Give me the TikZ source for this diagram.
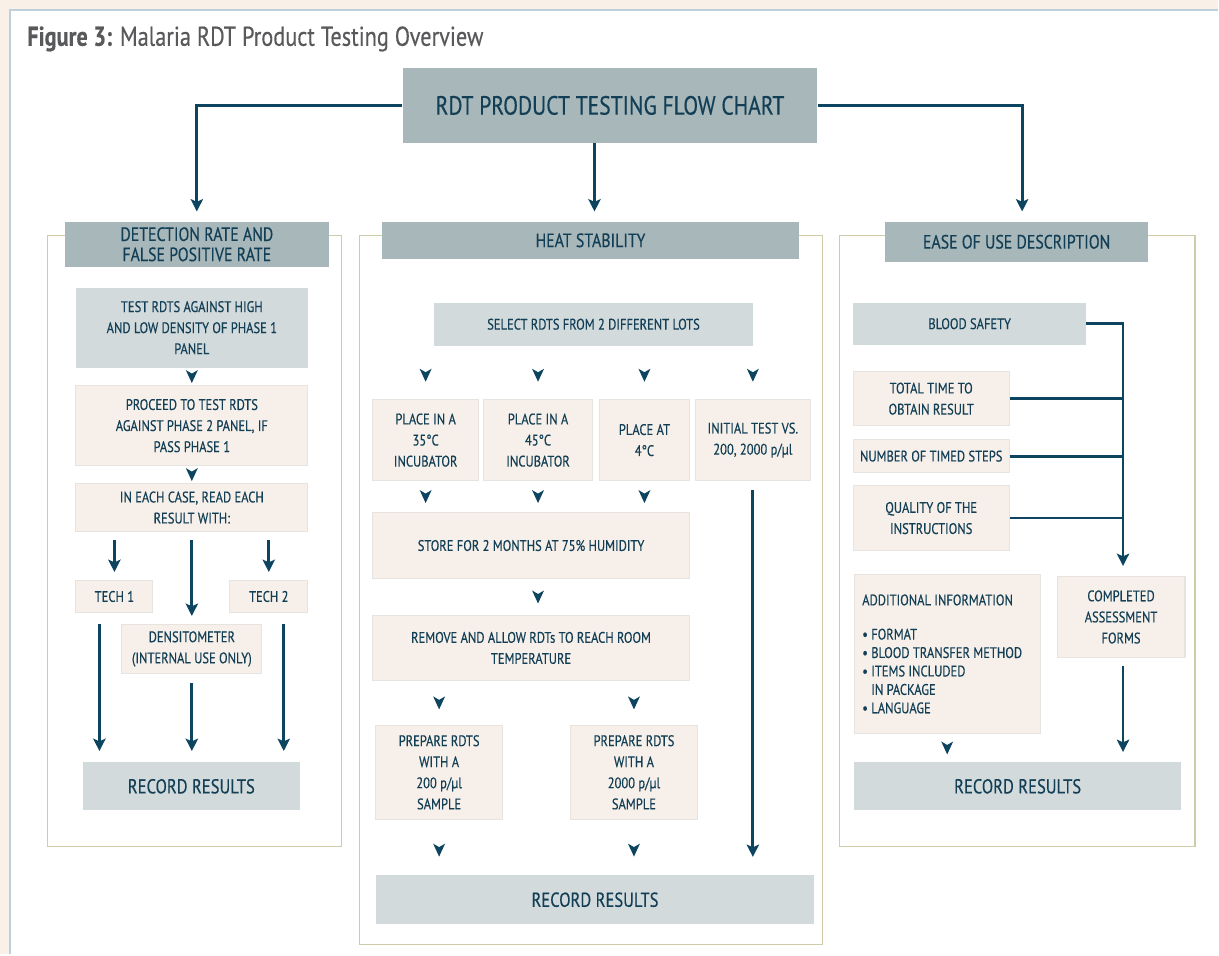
\documentclass[tikz,border=0pt]{standalone}
\usepackage{fontspec}
\setmainfont{PT Sans}[FakeStretch=0.82, FakeBold=0.35]
\usepackage{tikz}
\usetikzlibrary{arrows.meta, calc}
\usepackage{xcolor}
\definecolor{sfondo}{HTML}{F9F1E7}
\definecolor{bordoPannello}{HTML}{BDD0DB}
\definecolor{testata}{HTML}{A8B7BA}
\definecolor{chiaro}{HTML}{D2DADC}
\definecolor{crema}{HTML}{F7F0EA}
\definecolor{bordoCrema}{HTML}{E7E4DF}
\definecolor{cachi}{HTML}{CFCCA8}
\definecolor{blu}{HTML}{0D4560}
\definecolor{inchiostro}{HTML}{123F55}
\definecolor{grigio}{HTML}{58595B}
\newcommand{\piccolo}{\fontsize{8.7}{12}\selectfont}
\newcommand{\medio}{\fontsize{11}{11.5}\selectfont}
\newcommand{\registra}{\fontsize{11.5}{12}\selectfont}
\newcommand{\titolone}{\fontsize{15}{16}\selectfont}
\newcommand{\punta}[1]{
\fill[blu] (#1) ++(-6,-6.5) -- ++(6,3.5) -- ++(6,-3.5) -- ++(-6,13) -- cycle;
}
\tikzset{
    dim/.style 2 args = {minimum width = #1*0.02cm, minimum height = #2*0.02cm},
    scatola/.style = {inner sep = 0pt, align = center, text = inchiostro, font = \piccolo},
    intestazione/.style = {scatola, fill = testata, font = \medio},
    grigia/.style = {scatola, fill = chiaro},
    beige/.style = {scatola, fill = crema, draw = bordoCrema, line width = 0.6pt},
    freccia/.style = {blu, line width = 1.6pt, -{Stealth[length = 7pt, width = 7pt, inset = 1.5pt]}},
    linea/.style = {blu, line width = 1.6pt},
    cornice/.style = {cachi, line width = 0.6pt}
}

\begin{document}
\begin{tikzpicture}[x = 0.02cm, y = -0.02cm]
    % Sfondo e pannello
    \fill[sfondo] (0,0) rectangle (1219,955);
    \fill[white] (10,10) rectangle (1219,955);
    \draw[bordoPannello, line width = 1.2pt] (10,955) -- (10,10) -- (1219,10);
    \useasboundingbox (0,0) rectangle (1219,955);
    \node[anchor = west, inner sep = 0pt, text = grigio, font = \fontsize{15.5}{17}\selectfont] (titolo) at (27,39) {\textbf{Figure 3:} Malaria RDT Product Testing Overview};
    % Cornici delle colonne
    \draw[cornice] (48,236) rectangle (342,847);
    \draw[cornice] (360,236) rectangle (823,945);
    \draw[cornice] (840,236) rectangle (1196,847);
    % Nodo principale
    \node[intestazione, dim = {415}{75}, font = \titolone] (flusso) at (610.5,105.5) {RDT PRODUCT TESTING FLOW CHART};
    % Intestazioni
    \node[intestazione, dim = {264}{45}] (det) at (197,244.5) {DETECTION RATE AND\\FALSE POSITIVE RATE};
    \node[intestazione, dim = {418}{37}] (calore) at (591,240.5) {HEAT STABILITY};
    \node[intestazione, dim = {263}{40}] (uso) at (1017.5,242) {EASE OF USE DESCRIPTION};
    \coordinate (caloreSu) at ($(calore.north)+(4,0)$);
    \coordinate (usoSu) at ($(uso.north)+(5.5,0)$);
    \draw[freccia, shorten >= 0.2cm] (flusso.west) -| (det.north);
    \draw[freccia, shorten >= 0.2cm] (flusso.south -| caloreSu) -- (caloreSu);
    \draw[freccia, shorten >= 0.2cm] (flusso.east) -| (usoSu);
    % Colonna sinistra
    \node[grigia, dim = {232}{80}] (alta) at (192,328) {TEST RDTS AGAINST HIGH\\AND LOW DENSITY OF PHASE 1\\PANEL};
    \node[beige, dim = {232}{80}] (fase2) at (192,426) {PROCEED TO TEST RDTS\\AGAINST PHASE 2 PANEL, IF\\PASS PHASE 1};
    \node[beige, dim = {232}{48}] (caso) at (192,508) {IN EACH CASE, READ EACH\\RESULT WITH:};
    \node[beige, dim = {77}{32}] (tech1) at (114.5,597) {TECH 1};
    \node[beige, dim = {78}{32}] (tech2) at (269,597) {TECH 2};
    \node[beige, dim = {140}{49}] (dens) at (192,649.5) {DENSITOMETER\\(INTERNAL USE ONLY)};
    \node[grigia, dim = {217}{48}, font = \registra] (rec1) at (191.5,787) {RECORD RESULTS};
    \punta{$(alta.south)!0.5!(fase2.north)$}
    \punta{$(fase2.south)!0.5!(caso.north)$}
    \draw[freccia, shorten <= 0.16cm, shorten >= 0.16cm] (caso.south -| tech1) -- (tech1.north);
    \draw[freccia, shorten <= 0.16cm, shorten >= 0.16cm] (caso.south -| dens) -- (dens.north);
    \draw[freccia, shorten <= 0.16cm, shorten >= 0.16cm] (caso.south -| tech2) -- (tech2.north);
    \coordinate (t1giu) at ($(tech1.south)+(-15,0)$);
    \coordinate (t2giu) at ($(tech2.south)+(15,0)$);
    \draw[freccia, shorten <= 0.22cm, shorten >= 0.22cm] (t1giu) -- (t1giu |- rec1.north);
    \draw[freccia, shorten <= 0.18cm, shorten >= 0.22cm] (dens.south) -- (dens.south |- rec1.north);
    \draw[freccia, shorten <= 0.22cm, shorten >= 0.22cm] (t2giu) -- (t2giu |- rec1.north);
    % Colonna centrale
    \node[grigia, dim = {320}{43}] (lotti) at (594,324.5) {SELECT RDTS FROM 2 DIFFERENT LOTS};
    \node[beige, dim = {106}{81}] (b35) at (426,440.5) {PLACE IN A\\35°C\\INCUBATOR};
    \node[beige, dim = {109}{81}] (b45) at (538.5,440.5) {PLACE IN A\\45°C\\INCUBATOR};
    \node[beige, dim = {90}{81}] (b4) at (645,440.5) {PLACE AT\\4°C};
    \node[beige, dim = {115}{81}] (iniz) at (753.5,440.5) {INITIAL TEST VS.\\200, 2000 p/µl};
    \node[beige, dim = {317}{66}] (umid) at (531.5,546) {STORE FOR 2 MONTHS AT 75\% HUMIDITY};
    \node[beige, dim = {317}{65}] (stanza) at (531.5,648.5) {REMOVE AND ALLOW RDTs TO REACH ROOM\\TEMPERATURE};
    \node[beige, dim = {127}{94}] (p200) at (439.5,773) {PREPARE RDTS\\WITH A\\200 p/µl\\SAMPLE};
    \node[beige, dim = {127}{94}] (p2000) at (634.5,773) {PREPARE RDTS\\WITH A\\2000 p/µl\\SAMPLE};
    \node[grigia, dim = {439}{49}, font = \registra] (rec2) at (595.5,900.5) {RECORD RESULTS};
    \foreach \b in {b35, b45, b4, iniz}{
        \punta{$(lotti.south -| \b)!0.55!(\b.north)$}
    }
    \foreach \b in {b35, b45, b4}{
        \punta{$(\b.south)!0.5!(\b.south |- umid.north)$}
    }
    \punta{$(umid.south -| b45)!0.5!(stanza.north -| b45)$}
    \foreach \b in {p200, p2000}{
        \punta{$(stanza.south -| \b)!0.5!(\b.north)$}
        \punta{$(\b.south)!0.55!(\b.south |- rec2.north)$}
    }
    \draw[freccia, shorten <= 0.18cm, shorten >= 0.36cm] (iniz.south) -- (iniz.south |- rec2.north);
    % Colonna destra
    \node[grigia, dim = {233}{42}] (sangue) at (970.5,324) {BLOOD SAFETY};
    \node[beige, dim = {156}{54}] (tempo) at (932,399) {TOTAL TIME TO\\OBTAIN RESULT};
    \node[beige, dim = {156}{33}] (passi) at (932,456.5) {NUMBER OF TIMED STEPS};
    \node[beige, dim = {156}{65}] (qualita) at (932,518.5) {QUALITY OF THE\\INSTRUCTIONS};
    \node[beige, dim = {186}{159}, align = flush left, text width = 170*0.02cm, font = \fontsize{8.7}{10.5}\selectfont] (info) at (948,654.5) {ADDITIONAL INFORMATION\\[9pt]
        • FORMAT\\
        • BLOOD TRANSFER METHOD\\
        • ITEMS INCLUDED\\
        \phantom{•} IN PACKAGE\\
        • LANGUAGE};
    \node[beige, dim = {128}{81}] (moduli) at (1122,617.5) {COMPLETED\\ASSESSMENT\\FORMS};
    \node[grigia, dim = {327}{48}, font = \registra] (rec3) at (1018.5,787) {RECORD RESULTS};
    \coordinate (moduliSu) at ($(moduli.north)+(2,0)$);
    \coordinate (moduliGiu) at ($(moduli.south)+(2,0)$);
    \draw[freccia, shorten >= 0.2cm] (sangue.east) -| (moduliSu);
    \foreach \v in {tempo, passi, qualita}{
        \draw[linea] (\v.east) -- (\v.east -| moduliSu);
    }
    \draw[freccia, shorten <= 0.16cm, shorten >= 0.2cm] (moduliGiu) -- (moduliGiu |- rec3.north);
    \punta{$(info.south)!0.5!(info.south |- rec3.north)$}
\end{tikzpicture}
\end{document}
